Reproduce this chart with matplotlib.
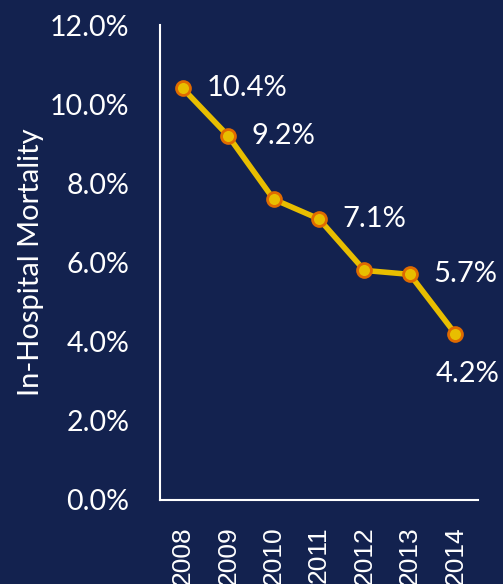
import matplotlib
matplotlib.use("Agg")
import matplotlib.pyplot as plt

# In-hospital mortality by year
years = ["2008", "2009", "2010", "2011", "2012", "2013", "2014"]
mortality = [10.4, 9.2, 7.6, 7.1, 5.8, 5.7, 4.2]
labelled = {0: "right", 1: "right", 3: "right", 5: "right", 6: "below"}

bg = "#13224f"
gold = "#e8be00"
edge = "#e06a00"

fig = plt.figure(figsize=(5.03, 5.84), dpi=100, facecolor=bg)
ax = fig.add_axes([160 / 503, 84 / 584, 318 / 503, 475 / 584], facecolor=bg)

x = list(range(len(years)))
ax.plot(x, mortality, color=gold, lw=4, marker="o", ms=10,
        mfc=gold, mec=edge, mew=2, zorder=3, solid_capstyle="round")

for i, where in labelled.items():
    if where == "right":
        ax.annotate(f"{mortality[i]:.1f}%", (x[i], mortality[i]), xytext=(17, 0),
                    textcoords="offset points", ha="left", va="center",
                    color="white", fontsize=21, family="Lato")
    else:
        ax.annotate(f"{mortality[i]:.1f}%", (x[i], mortality[i]), xytext=(9, -29),
                    textcoords="offset points", ha="center", va="center",
                    color="white", fontsize=21, family="Lato")

ax.set_xlim(-0.5, 6.5)
ax.set_ylim(0, 12)
ax.set_yticks([0, 2, 4, 6, 8, 10, 12])
ax.set_yticklabels([f"{v:.1f}%" for v in [0, 2, 4, 6, 8, 10, 12]],
                   color="white", fontsize=20.5, family="Lato")
ax.set_xticks(x)
ax.set_xticklabels(years, rotation=90, color="white", fontsize=19,
                   family="Liberation Sans", va="top")
ax.tick_params(axis="both", length=0)
ax.tick_params(axis="y", pad=22)
ax.tick_params(axis="x", pad=19)

for side in ["top", "right"]:
    ax.spines[side].set_visible(False)
for side in ["left", "bottom"]:
    ax.spines[side].set_color("white")
    ax.spines[side].set_linewidth(1.5)

ax.set_ylabel("In-Hospital Mortality", color="white", fontsize=21,
              family="Lato", labelpad=4)

fig.savefig("out.png", dpi=100, facecolor=bg)
